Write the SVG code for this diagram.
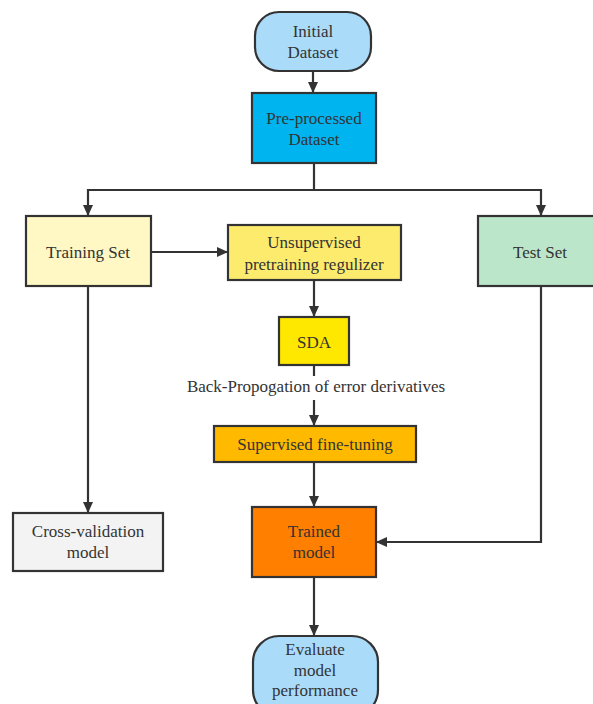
<svg xmlns="http://www.w3.org/2000/svg" width="593" height="704" viewBox="0 0 593 704">
<defs>
<marker id="arr" markerWidth="10" markerHeight="10" refX="10" refY="5" orient="auto" markerUnits="userSpaceOnUse"><path d="M0,0 L11,5 L0,10 Z" fill="#333"/></marker>
<style>
.n{stroke:#333;stroke-width:2.2}
.t{font-size:17px;fill:#333;text-anchor:middle}
.c{fill:none;stroke:#333;stroke-width:2.2}
</style>
</defs>
<rect width="593" height="704" fill="#fff"/>
<g font-family="'Liberation Serif', 'Times New Roman', Times, serif">
<g id="connectors">
<path class="c" d="M313,71 V92" marker-end="url(#arr)"/>
<path class="c" d="M314,163 V190 H88 V215" marker-end="url(#arr)"/>
<path class="c" d="M314,190 H541 V215" marker-end="url(#arr)"/>
<path class="c" d="M151,252 H227" marker-end="url(#arr)"/>
<path class="c" d="M314,280 V316" marker-end="url(#arr)"/>
<path class="c" d="M314,366 V376"/>
<path class="c" d="M314,400 V425" marker-end="url(#arr)"/>
<path class="c" d="M314,462 V506" marker-end="url(#arr)"/>
<path class="c" d="M88,286 V512" marker-end="url(#arr)"/>
<path class="c" d="M541,286 V542 H377" marker-end="url(#arr)"/>
<path class="c" d="M314,577 V635" marker-end="url(#arr)"/>
<text class="t" x="316" y="392">Back-Propogation of error derivatives</text>
</g>
<g id="initial"><rect class="n" x="255" y="12" width="116" height="59" rx="24" fill="#aadcfa"/><text class="t" x="313" y="37">Initial</text><text class="t" x="313" y="58">Dataset</text></g>
<g id="preprocessed"><rect class="n" x="252" y="93" width="124" height="70" fill="#00b4f0"/><text class="t" x="314" y="124">Pre-processed</text><text class="t" x="314" y="145">Dataset</text></g>
<g id="training"><rect class="n" x="26" y="216" width="125" height="70" fill="#fff8c4"/><text class="t" x="88" y="258">Training Set</text></g>
<g id="unsupervised"><rect class="n" x="228" y="225" width="173" height="55" fill="#fdeb6e"/><text class="t" x="314" y="248">Unsupervised</text><text class="t" x="314" y="270">pretraining regulizer</text></g>
<g id="test"><rect class="n" x="478" y="216" width="126" height="70" fill="#bbe6ca"/><text class="t" x="540" y="258">Test Set</text></g>
<g id="sda"><rect class="n" x="279" y="317" width="70" height="48" fill="#ffe800"/><text class="t" x="314" y="348">SDA</text></g>
<g id="finetune"><rect class="n" x="214" y="426" width="202" height="36" fill="#ffba00"/><text class="t" x="315" y="450">Supervised fine-tuning</text></g>
<g id="crossval"><rect class="n" x="13" y="513" width="150" height="58" fill="#f3f3f3"/><text class="t" x="88" y="537">Cross-validation</text><text class="t" x="88" y="558">model</text></g>
<g id="trained"><rect class="n" x="252" y="507" width="124" height="70" fill="#ff7f00"/><text class="t" x="314" y="537">Trained</text><text class="t" x="314" y="558">model</text></g>
<g id="evaluate"><rect class="n" x="253" y="636" width="125" height="80" rx="26" fill="#aadcfa"/><text class="t" x="315" y="655">Evaluate</text><text class="t" x="315" y="676">model</text><text class="t" x="315" y="696">performance</text></g>
</g>
</svg>
